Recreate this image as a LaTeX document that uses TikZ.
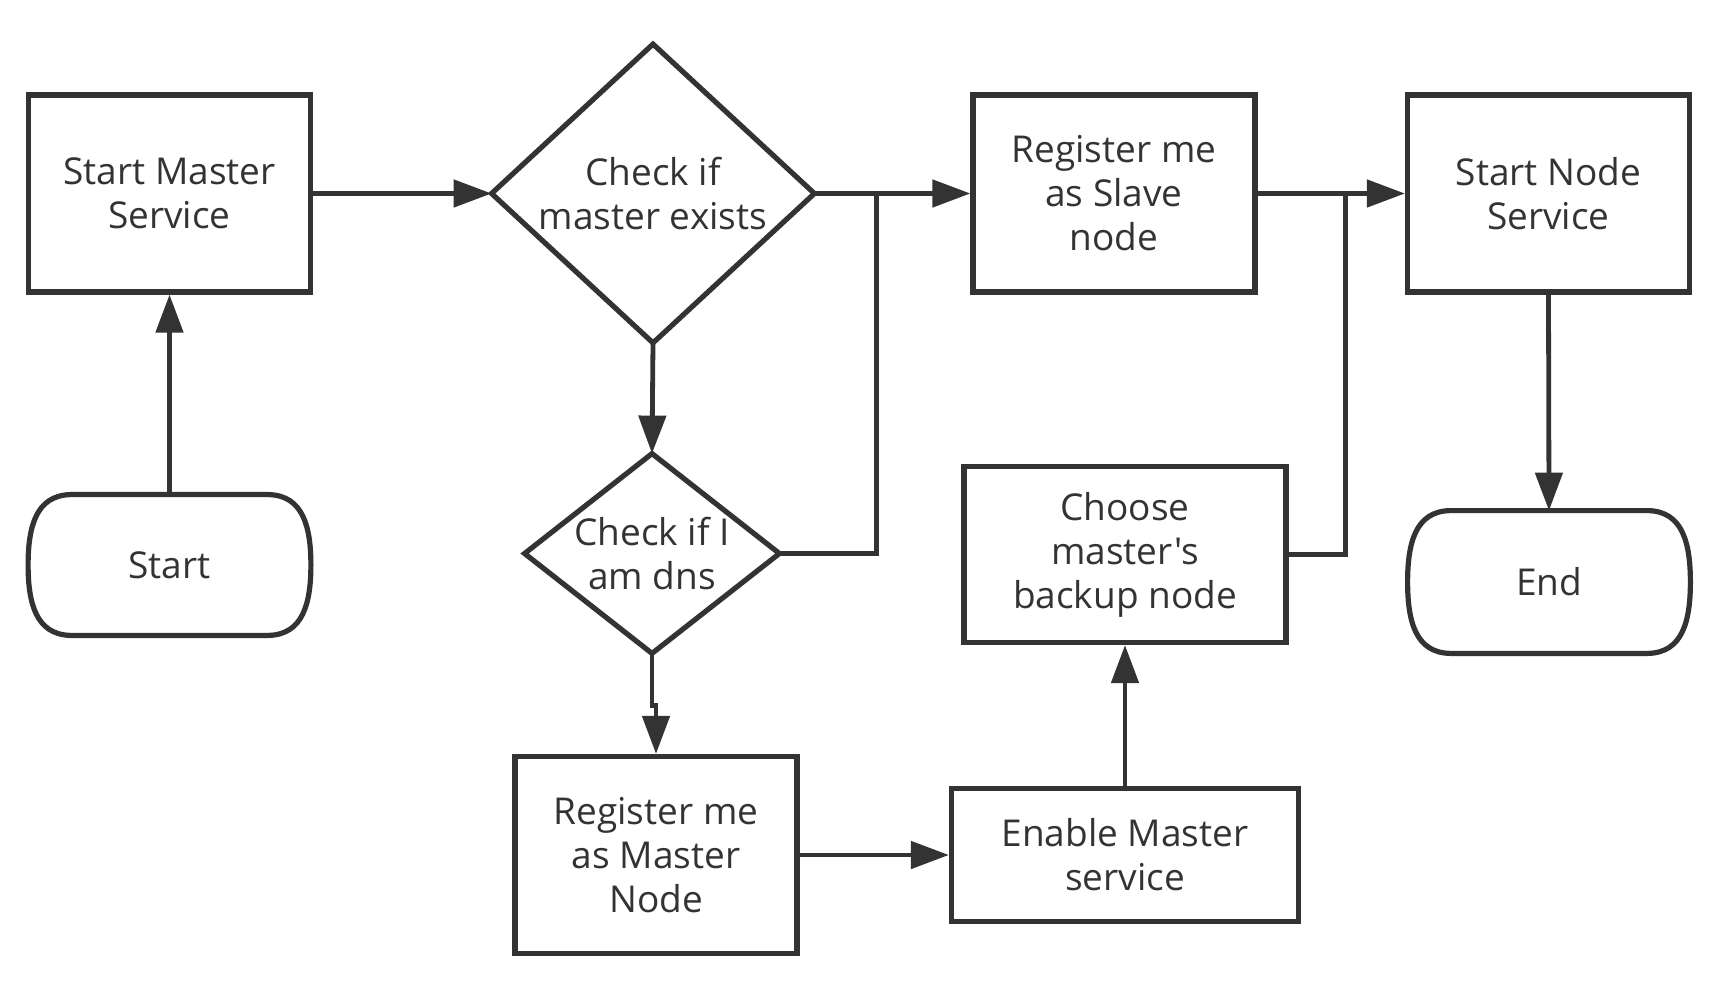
\documentclass[tikz,border=0pt]{standalone}
\usepackage{fontspec}
\setmainfont{Open Sans}[Ligatures=TeXOff]
\usetikzlibrary{arrows.meta,calc}
\definecolor{ink}{HTML}{333333}
\newcommand\termoutline[1]{%
  \draw[draw=ink,line width=2.6pt]
    ($(#1.north west)+(42,0)$) -- ($(#1.north east)+(-42,0)$)
    .. controls ($(#1.north east)+(-8,1)$) and ($(#1.north east)+(0,32)$) .. (#1.east)
    .. controls ($(#1.south east)+(0,-32)$) and ($(#1.south east)+(-8,-1)$) .. ($(#1.south east)+(-42,0)$)
    -- ($(#1.south west)+(42,0)$)
    .. controls ($(#1.south west)+(8,-1)$) and ($(#1.south west)+(0,-32)$) .. (#1.west)
    .. controls ($(#1.north west)+(0,32)$) and ($(#1.north west)+(8,1)$) .. cycle;}
\newcommand\diamondoutline[1]{%
  \draw[draw=ink,line width=2.6pt,line join=miter]
    (#1.west) -- (#1.north) -- (#1.east) -- (#1.south) -- cycle;}
\begin{document}
\begin{tikzpicture}[x=0.5pt,y=-0.5pt,
  lbl/.style={text=ink, align=center, inner sep=0pt,
    font=\fontsize{18.5}{22}\selectfont},
  box/.style={lbl, draw=ink, line width=2.6pt, fill=white},
  conn/.style={draw=ink, line width=2.4pt},
  arr/.style={conn, -{Triangle[length=19pt,width=13.5pt]}},
]
\useasboundingbox[fill=white] (0,0) rectangle (1726,984);

% nodes
\node[box, minimum width=141pt, minimum height=98.5pt] (sms) at (169.5,193.5) {Start Master\\Service};
\node[lbl, minimum width=141pt, minimum height=70pt] (start) at (169.5,565) {Start};
\node[lbl, minimum width=161pt, minimum height=149pt] (d1) at (653,193.5) {Check if\\master exists};
\node[lbl, minimum width=127pt, minimum height=99.5pt] (d2) at (652,553.5) {Check if I\\am dns};
\node[box, minimum width=141pt, minimum height=98.5pt] (rm) at (656,855) {Register me\\as Master\\Node};
\node[box, minimum width=173.5pt, minimum height=66.5pt] (en) at (1125,855) {Enable Master\\service};
\node[box, minimum width=161pt, minimum height=88pt] (ch) at (1125,554.5) {Choose\\master's\\backup node};
\node[box, minimum width=141pt, minimum height=98.5pt] (rs) at (1114,193.5) {Register me\\as Slave\\node};
\node[box, minimum width=141pt, minimum height=98.5pt] (sn) at (1548.5,193.5) {Start Node\\Service};
\node[lbl, minimum width=141pt, minimum height=71pt] (end) at (1549,582) {End};

\termoutline{start}
\termoutline{end}
\diamondoutline{d1}
\diamondoutline{d2}

\coordinate (j1) at (876.5,193.5);
\coordinate (j2) at (1345.5,193.5);

% connectors
\draw[arr] (start.north) -- (sms.south);
\draw[arr] (sms.east) -- (d1.west);
\draw[arr] (d1.east) -- (rs.west);
\draw[conn] (d2.east) -| (j1);
\draw[arr] (d1.south) -- (d2.north);
\draw[arr] (d2.south) -- ++(0,52) -| (rm.north);
\draw[arr] (rm.east) -- (en.west);
\draw[arr] (en.north) -- (ch.south);
\draw[conn] (ch.east) -| (j2);
\draw[arr] (rs.east) -- (sn.west);
\draw[arr] (sn.south) -- (end.north);
\end{tikzpicture}
\end{document}
